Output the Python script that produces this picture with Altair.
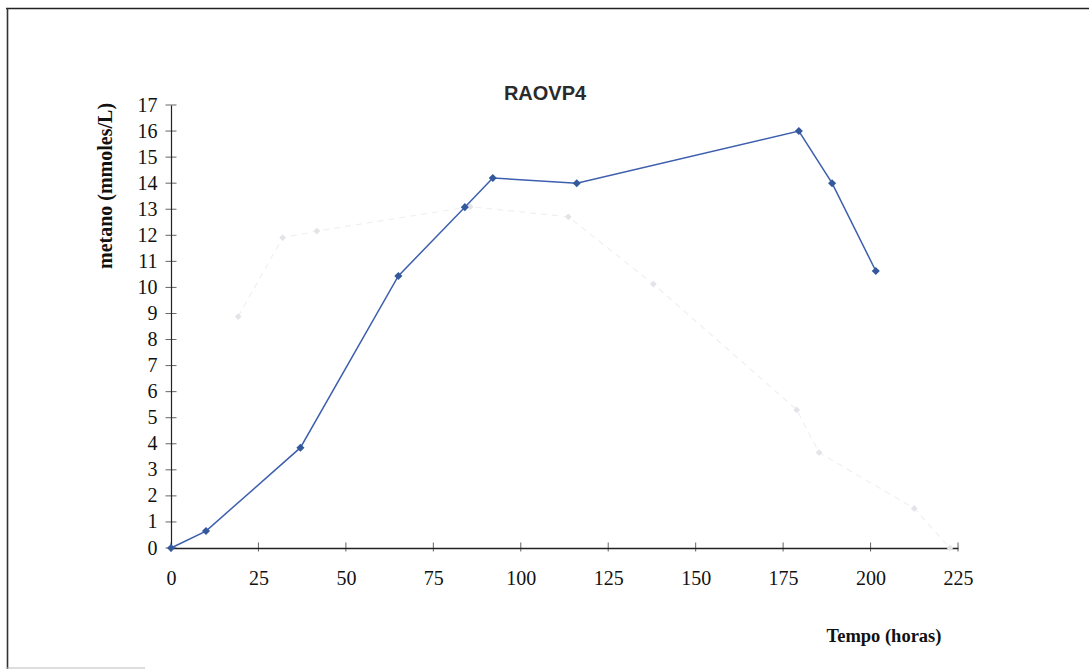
import altair as alt
import pandas as pd

# main series
tempo = [0, 10, 37, 65, 84, 92, 116, 179.5, 189, 201.5]
metano = [0, 0.65, 3.85, 10.44, 13.08, 14.2, 14.0, 16.0, 14.0, 10.63]

# faint bleed-through series visible in the scan
ghost_t = [19.2, 31.9, 41.7, 85.5, 113.6, 137.9, 178.9, 185.3, 212.5, 222.7]
ghost_v = [8.88, 11.91, 12.16, 13.1, 12.71, 10.13, 5.3, 3.66, 1.52, 0.0]

x_ticks = [0, 25, 50, 75, 100, 125, 150, 175, 200, 225]
y_ticks = list(range(0, 18))

df = pd.DataFrame({"t": tempo, "m": metano})
gdf = pd.DataFrame({"t": ghost_t, "m": ghost_v})
ydf = pd.DataFrame({"v": y_ticks})
xdf = pd.DataFrame({"v": x_ticks})

W, H = 787, 443
L, T = 171, 105

xs = alt.Scale(domain=[0, 225], nice=False, zero=False)
ys = alt.Scale(domain=[0, 17], nice=False, zero=False)

xaxis = alt.Axis(values=x_ticks, title=None, labelOverlap=False, labelFlush=False)
yaxis = alt.Axis(values=y_ticks, title=None, labelOverlap=False)

def X(f):
    return alt.X(f, type="quantitative", scale=xs, axis=xaxis)

def Y(f):
    return alt.Y(f, type="quantitative", scale=ys, axis=yaxis)

ghost_line = alt.Chart(gdf).mark_line(color="#f0f0f3", strokeWidth=1.2, strokeDash=[6, 5]).encode(
    x=X("t"), y=Y("m"))
ghost_pts = alt.Chart(gdf).mark_point(shape="diamond", filled=True, size=45, color="#e4e4e8", opacity=1).encode(
    x=X("t"), y=Y("m"))

ytk = alt.Chart(ydf).mark_tick(orient="horizontal", size=11, thickness=1, color="#222").encode(
    x=alt.datum(0, scale=xs, axis=xaxis), y=Y("v"))
xtk = alt.Chart(xdf).mark_tick(orient="vertical", size=9, thickness=1, color="#222").encode(
    x=X("v"), y=alt.value(H - 1))

line = alt.Chart(df).mark_line(color="#3d5fae", strokeWidth=1.5).encode(x=X("t"), y=Y("m"))
pts = alt.Chart(df).mark_point(shape="diamond", filled=True, size=65, color="#34589c", opacity=1).encode(
    x=X("t"), y=Y("m"))

title = alt.Chart(pd.DataFrame({"s": ["RAOVP4"]})).mark_text(
    font="Liberation Sans", fontSize=20, fontWeight="bold", color="#2a2a2a",
    align="center", baseline="middle").encode(
    text="s:N", x=alt.value(545 - L), y=alt.value(94 - T))
ytitle = alt.Chart(pd.DataFrame({"s": ["metano (mmoles/L)"]})).mark_text(
    font="Liberation Serif", fontSize=20, fontWeight="bold", color="#111",
    align="center", baseline="middle", angle=270).encode(
    text="s:N", x=alt.value(106 - L), y=alt.value(186 - T))
xtitle = alt.Chart(pd.DataFrame({"s": ["Tempo (horas)"]})).mark_text(
    font="Liberation Serif", fontSize=18.5, fontWeight="bold", color="#111",
    align="center", baseline="middle").encode(
    text="s:N", x=alt.value(884 - L), y=alt.value(636 - T))

frame_top = alt.Chart(pd.DataFrame({"a": [0]})).mark_rule(color="#222", strokeWidth=1.6).encode(
    x=alt.value(6 - L), x2=alt.value(1089 - L), y=alt.value(8.5 - T))
frame_left = alt.Chart(pd.DataFrame({"a": [0]})).mark_rule(color="#333", strokeWidth=1.6).encode(
    x=alt.value(7.5 - L), y=alt.value(8 - T), y2=alt.value(669 - T))
frame_bot = alt.Chart(pd.DataFrame({"a": [0]})).mark_rule(color="#bbb", strokeWidth=1).encode(
    x=alt.value(7 - L), x2=alt.value(145 - L), y=alt.value(668 - T))

chart = alt.layer(ghost_line, ghost_pts, ytk, xtk, line, pts, title, ytitle, xtitle,
                  frame_top, frame_left, frame_bot).properties(
    width=W, height=H,
    autosize=alt.AutoSizeParams(type="none"),
    padding={"left": L, "top": T, "right": 1089 - L - W, "bottom": 671 - T - H},
    background="white",
).configure_view(stroke=None).configure_axis(
    grid=False, ticks=False, domainColor="#222", labelFont="Liberation Serif",
    labelFontSize=20, labelColor="#111", labelOverlap=False,
).configure_axisX(domainWidth=1.6, labelPadding=20).configure_axisY(
    domainWidth=1.2, labelPadding=14)

chart.save("out.html", embed_options={"renderer": "svg", "actions": False})
